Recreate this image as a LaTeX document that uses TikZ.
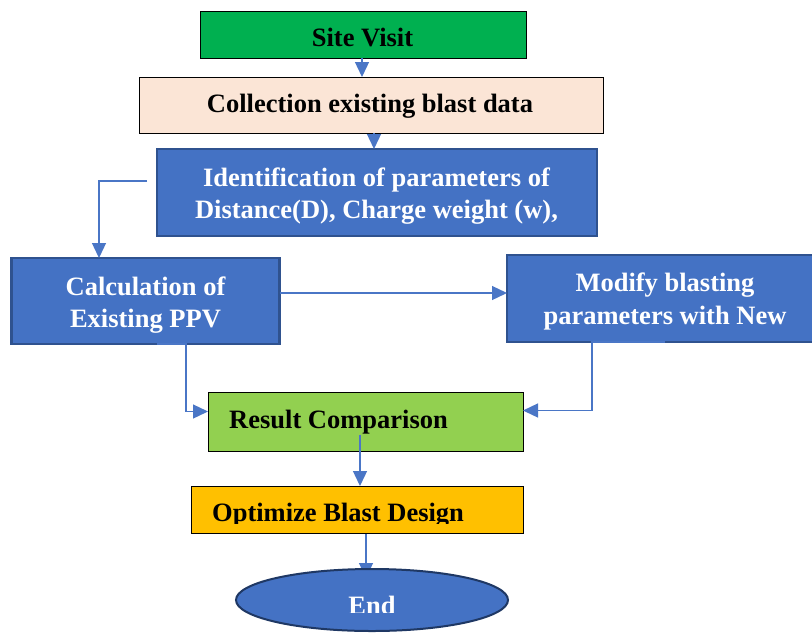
\documentclass[tikz,border=0pt]{standalone}
\usepackage{fontspec}
\setmainfont{Liberation Serif}
\usetikzlibrary{arrows.meta,calc,shapes.geometric,backgrounds}
\definecolor{sgreen}{HTML}{00B050}
\definecolor{peach}{HTML}{FBE5D6}
\definecolor{mblue}{HTML}{4472C4}
\definecolor{mborder}{HTML}{2F528F}
\definecolor{lgreen}{HTML}{92D050}
\definecolor{gold}{HTML}{FFC000}
\definecolor{lineblue}{HTML}{4A76C6}
\definecolor{endborder}{HTML}{1F3864}
\begin{document}
\begin{tikzpicture}[x=1pt,y=-1pt,
  box/.style={draw, rectangle, inner sep=0pt, outer sep=0pt},
  plainbox/.style={box, draw=black, line width=1pt},
  bluebox/.style={box, fill=mblue, draw=mborder, line width=2.5pt},
  conn/.style={draw=lineblue, line width=1.3pt, -{Triangle[width=14pt,length=15pt]}},
  lbl/.style={font=\fontsize{26.5}{32}\selectfont\bfseries, inner sep=0pt},
  wlbl/.style={lbl, text=white}]
\clip (0,0) rectangle (812,633);
\begin{scope}[on background layer]
  \fill[white] (0,0) rectangle (812,633);
\end{scope}

% boxes
\node[plainbox, fill=sgreen, minimum width=326pt, minimum height=47pt] (site) at (363.5,34.5) {};
\node[plainbox, fill=peach, minimum width=464pt, minimum height=56pt] (coll) at (371,105) {};
\node[bluebox, minimum width=440pt, minimum height=87pt] (ident) at (377,192.5) {};
\node[bluebox, minimum width=268pt, minimum height=86pt] (calc) at (145.5,301) {};
\node[bluebox, minimum width=316pt, minimum height=87pt] (modify) at (665,298.5) {};
\node[plainbox, fill=lgreen, minimum width=315pt, minimum height=59pt] (result) at (365.5,421.5) {};
\node[plainbox, fill=gold, minimum width=332pt, minimum height=47pt] (opt) at (357,509.5) {};
\node[ellipse, draw=endborder, fill=mblue, line width=2pt, inner sep=0pt,
      minimum width=272pt, minimum height=62pt] (endn) at (372,600) {};

% texts
\node[lbl, anchor=base] (sitet) at (362.5,46) {Site Visit};
\node[lbl, anchor=base] (collt) at (370,112) {Collection existing blast data};
\node[wlbl, anchor=base] (identa) at (376.5,186) {Identification of parameters of};
\node[wlbl, anchor=base] (identb) at (376.5,218) {Distance(D), Charge weight (w),};
\node[wlbl, anchor=base] (calca) at (145.5,295) {Calculation of};
\node[wlbl, anchor=base] (calcb) at (145.5,327) {Existing PPV};
\node[wlbl, anchor=base] (moda) at (665,291) {Modify blasting};
\node[wlbl, anchor=base] (modb) at (665,324) {parameters with New};
\node[lbl, anchor=base west] (rest) at (229,428) {Result Comparison};
\begin{scope}
  \clip (191,486) rectangle (523,523);
  \node[lbl, anchor=base west] (optt) at (212,521) {Optimize Blast Design};
\end{scope}
\begin{scope}
  \clip (230,560) rectangle (520,612);
  \node[wlbl, anchor=base] (endt) at (372,614.5) {End};
\end{scope}

% connectors
\coordinate (sc) at ($(site.south)+(-1.5,0)$);
\draw[conn] (sc) -- (sc |- coll.north);
\coordinate (ci) at ($(coll.south)+(3,0)$);
\draw[conn] (ci) -- (ci |- ident.north);
\coordinate (il) at ($(ident.west)+(-10,-11.5)$);
\coordinate (ct) at ($(calc.north)+(-46.5,0)$);
\draw[conn] (il) -| (ct);
\coordinate (cm) at ($(calc.east)+(0,-8)$);
\draw[conn] (cm) -- (cm -| modify.west);
\coordinate (cb1) at ($(calc.south)+(11.5,0)$);
\coordinate (cb2) at ($(calc.south)+(40.5,0)$);
\coordinate (rw) at ($(result.west)+(0,-10)$);
\draw[conn] (cb1) -- (cb2) |- (rw);
\coordinate (mb) at ($(modify.south)+(-73,0)$);
\coordinate (re) at ($(result.east)+(0,-11)$);
\draw[conn] (modify.south) -- (mb) |- (re);
\coordinate (ro) at ($(result.center)+(-5.5,13.5)$);
\draw[conn] (ro) -- (ro |- opt.north);
\coordinate (oe) at ($(opt.south)+(9,-3)$);
\coordinate (et) at ($(endn.north)+(-6,10)$);
\begin{scope}[on background layer]
  \draw[conn] (oe) -- (et);
\end{scope}
\end{tikzpicture}
\end{document}
